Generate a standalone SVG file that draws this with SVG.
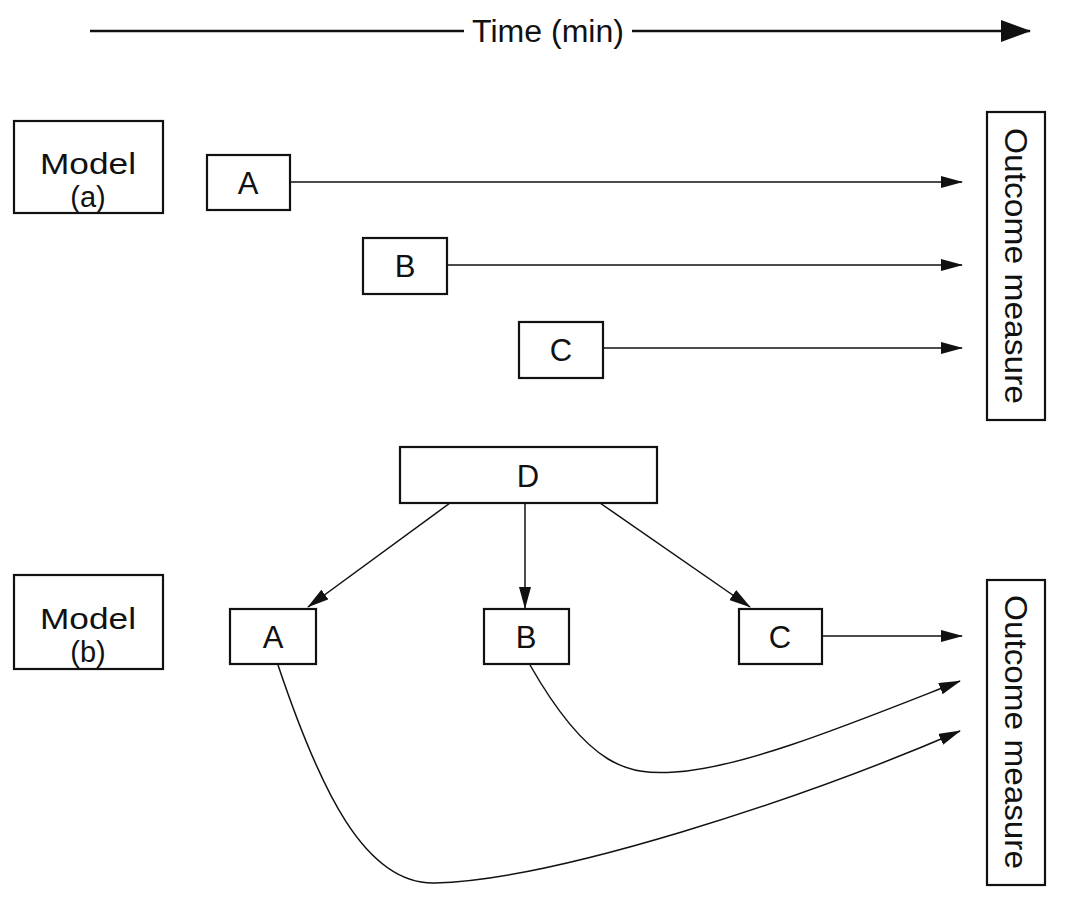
<svg xmlns="http://www.w3.org/2000/svg" width="1066" height="914" viewBox="0 0 1066 914">
<style>
.box{fill:#fff;stroke:#111;stroke-width:2.2}
.lbl{font-family:"Liberation Sans",Arial,sans-serif;font-size:31px;fill:#111;text-anchor:middle}
.mdl{font-family:"Liberation Sans",Arial,sans-serif;font-size:29px;fill:#111;text-anchor:middle}
.ln{fill:none;stroke:#111;stroke-width:1.5}
</style>
<defs>
<marker id="ah" markerUnits="userSpaceOnUse" markerWidth="22" markerHeight="12" refX="21" refY="6" orient="auto">
<path d="M0,0 L22,6 L0,12 Z" fill="#111"/>
</marker>
<marker id="big" markerUnits="userSpaceOnUse" markerWidth="30" markerHeight="22" refX="29" refY="11" orient="auto">
<path d="M0,0 L30,11 L0,22 Z" fill="#111"/>
</marker>
</defs>
<rect width="1066" height="914" fill="#fff"/>
<g id="time-axis">
<line x1="90" y1="31" x2="464" y2="31" stroke="#111" stroke-width="2.5"/>
<line x1="632" y1="31" x2="1030" y2="31" stroke="#111" stroke-width="2.5" marker-end="url(#big)"/>
<text x="548" y="42" class="lbl" font-size="30" textLength="152" lengthAdjust="spacingAndGlyphs">Time (min)</text>
</g>
<g id="connectors">
<line class="ln" x1="290" y1="182" x2="962" y2="182" marker-end="url(#ah)"/>
<line class="ln" x1="447" y1="265" x2="962" y2="265" marker-end="url(#ah)"/>
<line class="ln" x1="603" y1="348" x2="962" y2="348" marker-end="url(#ah)"/>
<line class="ln" x1="450" y1="503" x2="308" y2="607" marker-end="url(#ah)"/>
<line class="ln" x1="525" y1="503" x2="525" y2="608" marker-end="url(#ah)"/>
<line class="ln" x1="600" y1="503" x2="750" y2="607" marker-end="url(#ah)"/>
<line class="ln" x1="822" y1="636" x2="962" y2="636" marker-end="url(#ah)"/>
<path class="ln" d="M530 665 C590 770 630 775 675 772 C745 768 860 720 960 681" marker-end="url(#ah)"/>
<path class="ln" d="M278 665 C320 790 365 885 435 883 C555 880 800 800 960 731" marker-end="url(#ah)"/>
</g>
<g id="model-a">
<rect class="box" x="14" y="121" width="149" height="92"/>
<text class="mdl" x="88" y="174" textLength="96" lengthAdjust="spacingAndGlyphs">Model</text>
<text class="mdl" x="88" y="207">(a)</text>
</g>
<g id="a-top">
<rect class="box" x="207" y="155" width="83" height="55"/>
<text class="lbl" x="248" y="194">A</text>
</g>
<g id="b-top">
<rect class="box" x="363" y="238" width="84" height="56"/>
<text class="lbl" x="405" y="277">B</text>
</g>
<g id="c-top">
<rect class="box" x="519" y="322" width="84" height="56"/>
<text class="lbl" x="561" y="361">C</text>
</g>
<g id="outcome-a">
<rect class="box" x="987" y="112" width="58" height="308"/>
<text class="lbl" transform="translate(1005 266) rotate(90)" textLength="276" lengthAdjust="spacingAndGlyphs">Outcome measure</text>
</g>
<g id="d">
<rect class="box" x="400" y="447" width="257" height="56"/>
<text class="lbl" x="528" y="487">D</text>
</g>
<g id="model-b">
<rect class="box" x="14" y="575" width="149" height="94"/>
<text class="mdl" x="88" y="629" textLength="96" lengthAdjust="spacingAndGlyphs">Model</text>
<text class="mdl" x="88" y="662">(b)</text>
</g>
<g id="a-bottom">
<rect class="box" x="230" y="609" width="86" height="55"/>
<text class="lbl" x="273" y="648">A</text>
</g>
<g id="b-bottom">
<rect class="box" x="484" y="609" width="85" height="55"/>
<text class="lbl" x="526" y="648">B</text>
</g>
<g id="c-bottom">
<rect class="box" x="739" y="609" width="83" height="55"/>
<text class="lbl" x="780" y="648">C</text>
</g>
<g id="outcome-b">
<rect class="box" x="987" y="580" width="58" height="305"/>
<text class="lbl" transform="translate(1005 732) rotate(90)" textLength="274" lengthAdjust="spacingAndGlyphs">Outcome measure</text>
</g>
</svg>
